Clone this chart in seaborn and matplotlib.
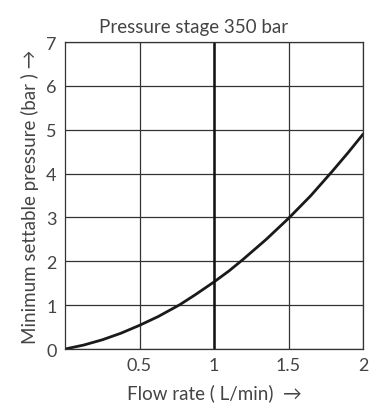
import numpy as np
import pandas as pd
import seaborn as sns
import matplotlib.pyplot as plt

sns.set_style("white")
plt.rcParams['font.family'] = ['Lato', 'DejaVu Sans']

# data
flow = [0.0, 0.125, 0.25, 0.375, 0.5, 0.625, 0.77, 0.875, 1.0, 1.1, 1.19,
        1.35, 1.5, 1.65, 1.79, 1.9, 2.0]
pressure = [0.0, 0.09, 0.21, 0.36, 0.54, 0.74, 1.01, 1.24, 1.53, 1.78, 2.03,
            2.5, 2.98, 3.5, 4.04, 4.48, 4.9]
x_ticks = [0.5, 1, 1.5, 2]
x_tick_labels = ["0.5", "1", "1.5", "2"]
y_ticks = [0, 1, 2, 3, 4, 5, 6, 7]
highlight_x = 1

df = pd.DataFrame({"flow": flow, "pressure": pressure})

fig = plt.figure(figsize=(3.79, 4.10), dpi=100)
ax = fig.add_axes([0.1715, 0.1463, 0.7865, 0.7487])

sns.lineplot(data=df, x="flow", y="pressure", color="#1a1a1a", lw=2, ax=ax)

ax.set_xlim(0, 2)
ax.set_ylim(0, 7)
ax.set_xticks(x_ticks)
ax.set_xticklabels(x_tick_labels)
ax.set_yticks(y_ticks)
ax.grid(True, color="#333333", lw=0.9)
ax.axvline(highlight_x, color="#111111", lw=1.8)
for s in ax.spines.values():
    s.set_color("#333333")
    s.set_linewidth(0.9)
ax.tick_params(length=0, labelsize=13, colors="#444444", pad=6)

ax.set_title("Pressure stage 350 bar", fontsize=13.5, color="#444444", pad=7, x=0.43)
ax.set_xlabel("Flow rate ( L/min)  →", fontsize=13.5, color="#444444", labelpad=7)
ax.set_ylabel("Minimum settable pressure (bar ) →", fontsize=13.5, color="#444444",
              labelpad=5)

fig.savefig("out.png", dpi=100)
